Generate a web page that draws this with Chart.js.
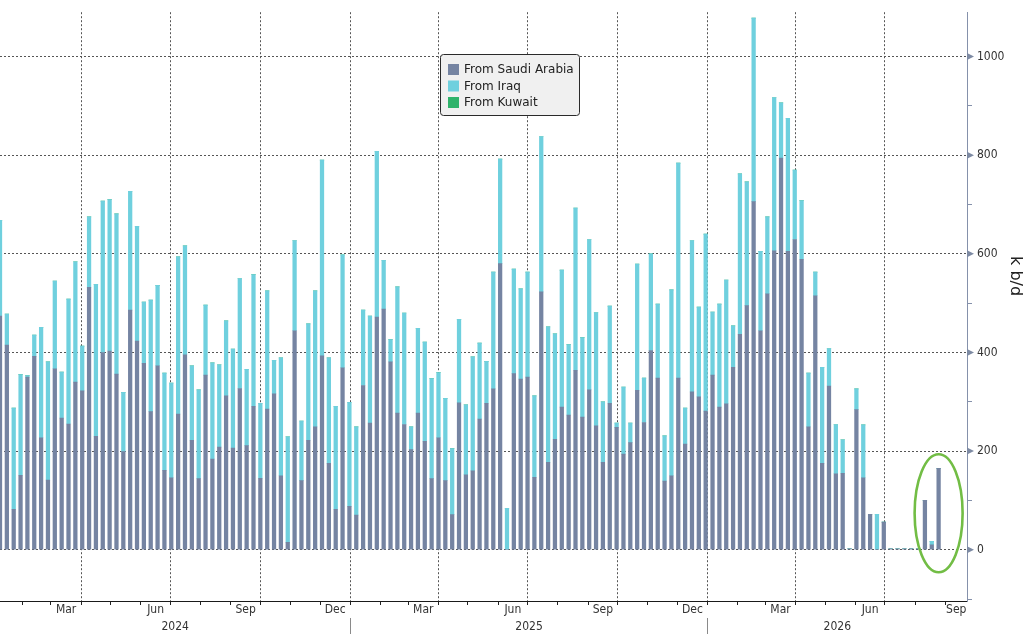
<!DOCTYPE html>
<html>
<head>
<meta charset="utf-8">
<script src="https://cdn.jsdelivr.net/npm/chart.js@4.4.1/dist/chart.umd.min.js"></script>
<style>
  html, body { margin: 0; padding: 0; background: #ffffff; }
  #wrap { width: 1025px; height: 634px; position: relative; }
  canvas { display: block; }
</style>
</head>
<body>
<div id="wrap"><canvas id="chart" width="1025" height="634"></canvas></div>
<script>
// ---------- DATA ----------
const firstWeek = '2024-01-09';          // date of the first weekly bar
const axisStart = '2024-01-09';
const axisEnd   = '2026-09-23';

const seriesNames = ['From Saudi Arabia', 'From Iraq', 'From Kuwait'];

const saudi = [
  474,415,82,151,350,392,227,141,367,267,
  255,340,322,532,230,400,403,356,199,486,
  423,378,280,373,161,146,275,395,222,144,
  354,184,208,312,206,327,211,291,145,285,
  316,150,15,444,140,222,249,393,175,82,
  369,88,70,333,257,472,488,381,277,254,
  203,277,220,144,227,140,71,298,152,160,
  265,297,326,580,0,357,346,350,147,523,
  177,224,289,273,364,269,324,251,177,297,
  248,194,217,323,258,404,348,139,150,348,
  214,320,310,281,354,289,296,370,437,495,
  706,444,519,606,794,605,629,589,249,515,
  175,332,154,155,2,284,146,72,0,56,
  2,2,2,2,2,100,10,165
];

const iraq = [
  194,63,205,204,3,43,224,240,178,93,
  253,244,91,143,308,307,307,325,120,241,
  233,124,226,163,197,192,319,221,151,180,
  142,195,167,152,201,223,155,267,152,240,
  68,239,214,183,121,236,276,397,214,209,
  229,211,179,153,217,336,99,45,256,226,
  46,172,201,203,132,167,134,169,142,231,
  154,85,237,212,84,212,183,213,165,315,
  275,214,278,143,329,161,305,230,123,197,
  9,136,40,256,90,196,150,92,377,436,
  73,307,182,359,128,209,251,84,325,251,
  372,161,156,311,112,270,141,119,109,48,
  195,76,100,68,0,42,107,0,72,0,
  0,0,0,0,0,0,7,0
];

const kuwait = [
  0,0,0,0,0,0,0,0,0,0,
  0,0,0,0,0,0,0,0,0,0,
  0,0,0,0,0,0,0,0,0,0,
  0,0,0,0,0,0,0,0,0,0,
  0,0,0,0,0,0,0,0,0,0,
  0,0,0,0,0,0,0,0,0,0,
  0,0,0,0,0,0,0,0,0,0,
  0,0,0,0,0,0,0,0,0,0,
  0,0,0,0,0,0,0,0,0,0,
  0,0,0,0,0,0,0,0,0,0,
  0,0,0,0,0,0,0,0,0,0,
  0,0,0,0,0,0,0,0,0,0,
  0,0,0,0,0,0,0,0,0,0,
  0,0,0,0,0,0,0,0
];

const monthLabels = ['Mar', 'Jun', 'Sep', 'Dec'];
const labelledMonthIndex = [2, 5, 8, 11];
const yearLabels = ['2024', '2025', '2026'];
const yTickValues = [-100, 0, 100, 200, 300, 400, 500, 600, 700, 800, 900, 1000];
const yMajorStep = 200;
const yAxisTitle = 'k b/d';

// ---------- helpers ----------
const DAY = 86400000;
const EPOCH = Date.UTC(2024, 0, 1);
function dayOf(s) { const [y, m, d] = s.split('-').map(Number); return (Date.UTC(y, m - 1, d) - EPOCH) / DAY; }
function dayOfYMD(y, m, d) { return (Date.UTC(y, m, d) - EPOCH) / DAY; }

const startDay = dayOf(firstWeek);
const weekDays = saudi.map((_, i) => startDay + 7 * i);   // weekly categories
const xMin = dayOf(axisStart);
const xMax = dayOf(axisEnd);

// month ticks (marks), quarter gridlines, month labels
const xTicks = [];
const xLabelMap = new Map();
const monthSet = new Set();
const quarterSet = new Set();
for (let y = 2024; y <= 2026; y++) {
  for (let m = 0; m < 12; m++) {
    const s = dayOfYMD(y, m, 1);
    const e = dayOfYMD(y, m + 1, 1);
    if (s > xMin && s < xMax) {
      xTicks.push(s); monthSet.add(s);
      if (m % 3 === 0) quarterSet.add(s);
    }
    const li = labelledMonthIndex.indexOf(m);
    if (li >= 0) {
      const lo = Math.max(s, xMin), hi = Math.min(e, xMax);
      if (hi > lo) { const c = (lo + hi) / 2; xTicks.push(c); xLabelMap.set(c, monthLabels[li]); }
    }
  }
}
xTicks.sort((a, b) => a - b);

// year row
const yearTicks = [];
const yearLabelMap = new Map();
const sepSet = new Set();
yearLabels.forEach((lab) => {
  const y = Number(lab);
  const s = dayOfYMD(y, 0, 1), e = dayOfYMD(y + 1, 0, 1);
  if (s > xMin && s < xMax) { yearTicks.push(s); sepSet.add(s); }
  const lo = Math.max(s, xMin), hi = Math.min(e, xMax);
  const c = (lo + hi) / 2; yearTicks.push(c); yearLabelMap.set(c, lab);
});
yearTicks.sort((a, b) => a - b);

const FONT_C = "'DejaVu Sans Condensed', 'Liberation Sans Narrow', 'DejaVu Sans', sans-serif";
const FONT = "'DejaVu Sans', 'Noto Sans', sans-serif";
const COLORS = ['#7584a2', '#6fd0de', '#2fb36b'];
const CLEAR = 'rgba(0,0,0,0)';

// ---------- decorations plugin ----------
const decor = {
  id: 'decor',
  afterDraw(chart) {
    const ctx = chart.ctx;
    const ys = chart.scales.y, xs = chart.scales.x;
    const ax = chart.chartArea.right;
    // triangles for labelled y ticks
    ctx.save();
    ctx.fillStyle = '#7d8aa3';
    yTickValues.forEach(v => {
      if (v >= 0 && v % yMajorStep === 0) {
        const py = ys.getPixelForValue(v);
        ctx.beginPath();
        ctx.moveTo(ax, py - 3.5); ctx.lineTo(ax + 7, py); ctx.lineTo(ax, py + 3.5);
        ctx.closePath(); ctx.fill();
      }
    });
    ctx.restore();

    // green ellipse highlighting the latest weeks
    const cx = xs.getPixelForValue(weekDays[weekDays.length - 1]);
    const cy = ys.getPixelForValue(74);
    ctx.save();
    ctx.strokeStyle = '#72bd45';
    ctx.lineWidth = 2.6;
    ctx.beginPath();
    ctx.ellipse(cx, cy, 24, 59, 0, 0, Math.PI * 2);
    ctx.stroke();
    ctx.restore();

    // legend box
    const lx = 440.5, ly = 54.5, lw = 139, lh = 61;
    ctx.save();
    ctx.beginPath();
    if (ctx.roundRect) ctx.roundRect(lx, ly, lw, lh, 3); else ctx.rect(lx, ly, lw, lh);
    ctx.fillStyle = '#f0f0f0'; ctx.fill();
    ctx.strokeStyle = '#2a2a2a'; ctx.lineWidth = 1; ctx.stroke();
    ctx.font = '12px ' + FONT;
    ctx.textBaseline = 'middle';
    chart.data.datasets.forEach((ds, i) => {
      const ry = ly + 15 + i * 16.5;
      ctx.fillStyle = ds.backgroundColor;
      ctx.fillRect(lx + 7.5, ry - 5.5, 11, 11);
      ctx.fillStyle = '#222';
      ctx.fillText(ds.label, lx + 23.5, ry + 0.5);
    });
    ctx.restore();
  }
};

// ---------- chart ----------
const titlePad = '\u00a0'.repeat(12);

new Chart(document.getElementById('chart'), {
  type: 'bar',
  data: {
    labels: weekDays,
    datasets: [
      { label: seriesNames[0], data: saudi,  backgroundColor: COLORS[0], borderWidth: 0, barThickness: 3.6 },
      { label: seriesNames[1], data: iraq,   backgroundColor: COLORS[1], borderWidth: 0, barThickness: 3.6 },
      { label: seriesNames[2], data: kuwait, backgroundColor: COLORS[2], borderWidth: 0, barThickness: 3.6 }
    ]
  },
  options: {
    responsive: false,
    animation: false,
    devicePixelRatio: 1,
    layout: { padding: 0 },
    plugins: { legend: { display: false }, tooltip: { enabled: false } },
    scales: {
      x: {
        type: 'linear', position: 'bottom', min: xMin, max: xMax, stacked: true, offset: false, weight: 0,
        afterBuildTicks: s => { s.ticks = xTicks.map(v => ({ value: v })); },
        afterFit: s => { s.height = 17; s.paddingLeft = 0; s.paddingRight = 0; },
        grid: {
          display: true, offset: false, drawOnChartArea: true, drawTicks: true, tickLength: 4, lineWidth: 1,
          color: c => (c.tick && quarterSet.has(c.tick.value)) ? '#555' : CLEAR,
          tickColor: c => (c.tick && monthSet.has(c.tick.value)) ? '#222' : CLEAR,
          tickWidth: 1
        },
        border: { display: true, color: '#1a1a1a', width: 1, dash: [2, 2] },
        ticks: {
          autoSkip: false, maxRotation: 0, minRotation: 0, padding: -2, color: '#333',
          font: { family: FONT_C, size: 12 },
          callback: v => xLabelMap.get(v) || ''
        }
      },
      xy: {
        type: 'linear', position: 'bottom', min: xMin, max: xMax, offset: false, weight: 1,
        afterBuildTicks: s => { s.ticks = yearTicks.map(v => ({ value: v })); },
        afterFit: s => { s.height = 16; s.paddingLeft = 0; s.paddingRight = 0; },
        grid: {
          display: true, offset: false, drawOnChartArea: false, drawTicks: true, tickLength: 17,
          color: CLEAR,
          tickColor: c => (c.tick && sepSet.has(c.tick.value)) ? '#8a8a8a' : CLEAR,
          tickWidth: 1
        },
        border: { display: false },
        ticks: {
          autoSkip: false, maxRotation: 0, minRotation: 0, padding: -15, color: '#333',
          font: { family: FONT_C, size: 12 },
          callback: v => yearLabelMap.get(v) || ''
        }
      },
      y: {
        type: 'linear', position: 'right', min: -104, max: 1090, stacked: true,
        afterBuildTicks: s => { s.ticks = yTickValues.map(v => ({ value: v })); },
        afterFit: s => { s.width = 58; },
        grid: {
          display: true, drawOnChartArea: true, drawTicks: true, tickLength: 5, lineWidth: 1,
          color: c => (c.tick && c.tick.value >= 0 && c.tick.value % yMajorStep === 0) ? '#555' : CLEAR,
          tickColor: c => (c.tick && c.tick.value % yMajorStep !== 0) ? '#8591ab' : CLEAR,
          tickWidth: 1
        },
        border: { display: true, color: '#8591ab', width: 1, dash: [2, 2] },
        ticks: {
          autoSkip: false, padding: 5, color: '#333',
          font: { family: FONT_C, size: 12 },
          callback: v => (v >= 0 && v % yMajorStep === 0) ? String(v) : ''
        },
        title: {
          display: true, text: yAxisTitle + titlePad, color: '#222',
          font: { family: FONT, size: 16 }, padding: { top: 0, bottom: 0 }
        }
      }
    }
  },
  plugins: [decor]
});
</script>
</body>
</html>
